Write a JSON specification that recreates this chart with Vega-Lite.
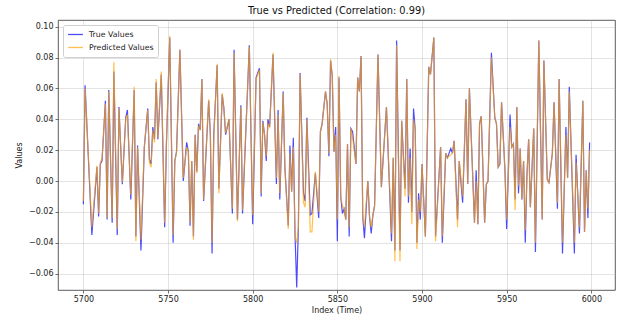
{
  "$schema": "https://vega.github.io/schema/vega-lite/v6.json",
  "width": 557,
  "height": 270,
  "autosize": {"type": "none"},
  "padding": {"left": 58, "top": 20, "right": 7, "bottom": 38},
  "title": {"text": "True vs Predicted (Correlation: 0.99)", "fontSize": 9.8, "fontWeight": "normal", "color": "#111", "offset": 4, "anchor": "middle"},
  "data": {"values": [
    {"i":5700,"t":-0.015,"p":-0.013},{"i":5701,"t":0.062,"p":0.060},{"i":5705,"t":-0.035,"p":-0.030},{"i":5708,"t":0.009,"p":0.010},
    {"i":5709,"t":-0.023,"p":-0.021},{"i":5710,"t":0.011,"p":0.012},{"i":5711,"t":0.013,"p":0.015},{"i":5713,"t":0.052,"p":0.050},
    {"i":5714,"t":-0.025,"p":-0.024},{"i":5715,"t":0.059,"p":0.058},{"i":5717,"t":-0.027,"p":-0.024},{"i":5718,"t":0.071,"p":0.077},
    {"i":5720,"t":-0.035,"p":-0.031},{"i":5721,"t":0.048,"p":0.047},{"i":5723,"t":-0.002,"p":-0.001},{"i":5725,"t":0.041,"p":0.040},
    {"i":5726,"t":0.046,"p":0.043},{"i":5728,"t":-0.012,"p":-0.009},{"i":5730,"t":0.059,"p":0.061},{"i":5731,"t":-0.036,"p":-0.039},
    {"i":5732,"t":0.023,"p":0.022},{"i":5734,"t":-0.045,"p":-0.038},{"i":5736,"t":0.022,"p":0.023},{"i":5738,"t":0.047,"p":0.046},
    {"i":5739,"t":0.014,"p":0.012},{"i":5740,"t":0.011,"p":0.009},{"i":5741,"t":0.035,"p":0.033},{"i":5742,"t":0.027,"p":0.025},
    {"i":5743,"t":0.064,"p":0.066},{"i":5744,"t":0.027,"p":0.028},{"i":5746,"t":0.069,"p":0.071},{"i":5748,"t":-0.030,"p":-0.027},
    {"i":5749,"t":0.022,"p":0.024},{"i":5751,"t":0.093,"p":0.094},{"i":5753,"t":-0.040,"p":-0.035},{"i":5754,"t":0.013,"p":0.013},
    {"i":5755,"t":0.019,"p":0.018},{"i":5757,"t":0.085,"p":0.085},{"i":5759,"t":0.000,"p":0.002},{"i":5761,"t":0.025,"p":0.022},
    {"i":5762,"t":0.019,"p":0.019},{"i":5763,"t":-0.029,"p":-0.027},{"i":5764,"t":0.013,"p":0.013},{"i":5765,"t":-0.036,"p":-0.038},
    {"i":5766,"t":0.030,"p":0.030},{"i":5767,"t":0.006,"p":0.005},{"i":5768,"t":0.037,"p":0.036},{"i":5769,"t":0.033,"p":0.033},
    {"i":5770,"t":0.066,"p":0.066},{"i":5771,"t":-0.013,"p":-0.012},{"i":5774,"t":0.052,"p":0.053},{"i":5775,"t":0.030,"p":0.030},
    {"i":5776,"t":-0.047,"p":-0.040},{"i":5777,"t":0.030,"p":0.027},{"i":5779,"t":0.075,"p":0.076},{"i":5780,"t":-0.005,"p":-0.008},
    {"i":5782,"t":0.056,"p":0.057},{"i":5783,"t":0.047,"p":0.047},{"i":5784,"t":0.030,"p":0.031},{"i":5786,"t":0.040,"p":0.040},
    {"i":5788,"t":-0.021,"p":-0.018},{"i":5789,"t":0.085,"p":0.083},{"i":5791,"t":-0.025,"p":-0.026},{"i":5793,"t":0.049,"p":0.048},
    {"i":5794,"t":-0.021,"p":-0.019},{"i":5798,"t":0.088,"p":0.087},{"i":5800,"t":-0.028,"p":-0.022},{"i":5802,"t":0.067,"p":0.066},
    {"i":5804,"t":0.073,"p":0.072},{"i":5805,"t":-0.010,"p":-0.008},{"i":5806,"t":0.039,"p":0.038},{"i":5807,"t":0.030,"p":0.030},
    {"i":5808,"t":0.013,"p":0.016},{"i":5809,"t":0.040,"p":0.037},{"i":5810,"t":0.035,"p":0.035},{"i":5812,"t":0.082,"p":0.083},
    {"i":5814,"t":-0.002,"p":0.002},{"i":5815,"t":0.046,"p":0.043},{"i":5816,"t":-0.012,"p":-0.008},{"i":5818,"t":0.058,"p":0.057},
    {"i":5819,"t":0.009,"p":0.009},{"i":5821,"t":-0.029,"p":-0.031},{"i":5822,"t":0.023,"p":0.018},{"i":5823,"t":-0.007,"p":-0.007},
    {"i":5824,"t":0.028,"p":0.022},{"i":5825,"t":-0.035,"p":-0.036},{"i":5826,"t":-0.069,"p":-0.040},{"i":5827,"t":-0.029,"p":-0.030},
    {"i":5828,"t":0.070,"p":0.069},{"i":5830,"t":-0.008,"p":-0.014},{"i":5831,"t":-0.013,"p":-0.017},{"i":5832,"t":0.041,"p":0.040},
    {"i":5834,"t":-0.022,"p":-0.033},{"i":5835,"t":-0.021,"p":-0.033},{"i":5837,"t":0.005,"p":0.006},{"i":5839,"t":-0.024,"p":-0.020},
    {"i":5840,"t":0.032,"p":0.032},{"i":5841,"t":0.037,"p":0.037},{"i":5843,"t":0.058,"p":0.058},{"i":5844,"t":0.050,"p":0.050},
    {"i":5845,"t":0.016,"p":0.018},{"i":5846,"t":0.078,"p":0.079},{"i":5847,"t":0.068,"p":0.068},{"i":5848,"t":0.019,"p":0.019},
    {"i":5849,"t":0.035,"p":0.030},{"i":5850,"t":-0.039,"p":-0.025},{"i":5851,"t":0.067,"p":0.068},{"i":5852,"t":-0.010,"p":-0.010},
    {"i":5853,"t":-0.021,"p":-0.016},{"i":5854,"t":-0.018,"p":-0.018},{"i":5855,"t":-0.025,"p":-0.025},{"i":5856,"t":0.024,"p":0.024},
    {"i":5857,"t":-0.036,"p":-0.030},{"i":5858,"t":0.034,"p":0.034},{"i":5859,"t":0.032,"p":0.028},{"i":5861,"t":0.011,"p":0.011},
    {"i":5862,"t":0.067,"p":0.067},{"i":5863,"t":0.058,"p":0.058},{"i":5864,"t":0.081,"p":0.081},{"i":5865,"t":-0.023,"p":-0.023},
    {"i":5866,"t":-0.037,"p":-0.030},{"i":5868,"t":0.000,"p":0.000},{"i":5869,"t":-0.023,"p":-0.023},{"i":5870,"t":-0.034,"p":-0.030},
    {"i":5871,"t":-0.022,"p":-0.022},{"i":5872,"t":-0.016,"p":-0.016},{"i":5874,"t":0.082,"p":0.082},{"i":5876,"t":-0.004,"p":-0.004},
    {"i":5879,"t":0.048,"p":0.048},{"i":5882,"t":-0.039,"p":-0.034},{"i":5883,"t":0.015,"p":0.015},{"i":5884,"t":-0.045,"p":-0.052},
    {"i":5885,"t":0.091,"p":0.088},{"i":5887,"t":-0.045,"p":-0.052},{"i":5888,"t":0.039,"p":0.039},{"i":5890,"t":-0.005,"p":-0.010},
    {"i":5891,"t":0.066,"p":0.066},{"i":5892,"t":-0.014,"p":-0.010},{"i":5893,"t":0.021,"p":0.015},{"i":5894,"t":-0.020,"p":-0.028},
    {"i":5895,"t":0.047,"p":0.040},{"i":5896,"t":0.033,"p":0.033},{"i":5897,"t":-0.040,"p":-0.044},{"i":5898,"t":-0.008,"p":-0.012},
    {"i":5899,"t":-0.025,"p":-0.020},{"i":5900,"t":0.011,"p":0.011},{"i":5902,"t":-0.036,"p":-0.036},{"i":5904,"t":0.074,"p":0.074},
    {"i":5905,"t":0.069,"p":0.069},{"i":5907,"t":0.093,"p":0.093},{"i":5908,"t":-0.036,"p":-0.039},{"i":5911,"t":0.022,"p":0.022},
    {"i":5912,"t":-0.040,"p":-0.036},{"i":5914,"t":0.018,"p":0.018},{"i":5915,"t":0.015,"p":0.015},{"i":5917,"t":0.021,"p":0.017},
    {"i":5918,"t":0.018,"p":0.018},{"i":5919,"t":0.026,"p":0.026},{"i":5921,"t":-0.025,"p":-0.030},{"i":5922,"t":0.013,"p":0.013},
    {"i":5924,"t":-0.014,"p":-0.010},{"i":5926,"t":0.053,"p":0.053},{"i":5927,"t":-0.002,"p":-0.002},{"i":5928,"t":0.060,"p":0.060},
    {"i":5931,"t":-0.027,"p":-0.027},{"i":5932,"t":0.007,"p":0.000},{"i":5933,"t":-0.028,"p":-0.028},{"i":5934,"t":0.037,"p":0.037},
    {"i":5935,"t":0.042,"p":0.042},{"i":5937,"t":-0.027,"p":-0.027},{"i":5938,"t":-0.002,"p":-0.002},{"i":5939,"t":0.000,"p":0.000},
    {"i":5941,"t":0.083,"p":0.080},{"i":5943,"t":0.041,"p":0.041},{"i":5944,"t":0.037,"p":0.037},{"i":5945,"t":0.009,"p":0.009},
    {"i":5946,"t":0.011,"p":0.011},{"i":5947,"t":0.051,"p":0.051},{"i":5949,"t":0.007,"p":0.007},{"i":5950,"t":-0.031,"p":-0.025},
    {"i":5952,"t":0.043,"p":0.035},{"i":5953,"t":0.022,"p":0.022},{"i":5954,"t":0.024,"p":0.024},{"i":5955,"t":-0.012,"p":-0.019},
    {"i":5956,"t":0.048,"p":0.048},{"i":5957,"t":-0.008,"p":-0.003},{"i":5958,"t":0.021,"p":0.021},{"i":5959,"t":-0.012,"p":-0.012},
    {"i":5960,"t":0.013,"p":0.013},{"i":5961,"t":-0.040,"p":-0.032},{"i":5962,"t":0.004,"p":0.004},{"i":5963,"t":0.027,"p":0.027},
    {"i":5964,"t":-0.017,"p":-0.017},{"i":5966,"t":0.034,"p":0.034},{"i":5967,"t":-0.046,"p":-0.040},{"i":5969,"t":0.091,"p":0.091},
    {"i":5971,"t":-0.025,"p":-0.025},{"i":5972,"t":0.078,"p":0.078},{"i":5974,"t":0.001,"p":0.001},{"i":5975,"t":-0.001,"p":-0.001},
    {"i":5977,"t":0.018,"p":0.018},{"i":5978,"t":0.051,"p":0.051},{"i":5980,"t":-0.018,"p":-0.014},{"i":5981,"t":0.066,"p":0.066},
    {"i":5983,"t":-0.047,"p":-0.040},{"i":5985,"t":0.035,"p":0.030},{"i":5986,"t":0.002,"p":0.002},{"i":5987,"t":0.061,"p":0.058},
    {"i":5990,"t":-0.047,"p":-0.040},{"i":5991,"t":0.017,"p":0.012},{"i":5993,"t":-0.034,"p":-0.030},{"i":5995,"t":0.052,"p":0.052},
    {"i":5996,"t":-0.033,"p":-0.033},{"i":5997,"t":0.007,"p":0.007},{"i":5998,"t":-0.024,"p":-0.018},{"i":5999,"t":0.025,"p":0.020}
  ]},
  "transform": [{"fold": ["t", "p"], "as": ["s", "v"]}],
  "mark": {"type": "line", "strokeWidth": 1.2, "opacity": 0.7},
  "encoding": {
    "x": {"field": "i", "type": "quantitative", "scale": {"domain": [5685, 6014], "nice": false, "zero": false},
          "axis": {"title": "Index (Time)", "values": [5700, 5750, 5800, 5850, 5900, 5950, 6000], "format": "d", "labelFlush": false, "titlePadding": 3}},
    "y": {"field": "v", "type": "quantitative", "scale": {"domain": [-0.0706, 0.1043], "nice": false, "zero": false},
          "axis": {"title": "Values", "values": [-0.06, -0.04, -0.02, 0, 0.02, 0.04, 0.06, 0.08, 0.1], "format": ".2f", "labelOverlap": false, "labelFlush": false, "titlePadding": 5}},
    "color": {"field": "s", "type": "nominal",
              "scale": {"domain": ["t", "p"], "range": ["#0000ff", "#ffa500"]},
              "legend": {"title": null, "orient": "top-left", "offset": 5, "padding": 4, "fillColor": "white", "strokeColor": "#d0d0d0",
                         "cornerRadius": 2, "symbolType": "stroke", "symbolSize": 220, "symbolStrokeWidth": 1.3, "symbolOpacity": 0.7,
                         "clipHeight": 11, "labelFontSize": 7.8, "labelColor": "#222", "labelOffset": 5, "rowPadding": 2,
                         "labelExpr": "datum.label == 't' ? 'True Values' : 'Predicted Values'"}}
  },
  "config": {
    "font": "DejaVu Sans",
    "view": {"stroke": "#333333", "strokeWidth": 0.8},
    "axis": {"grid": true, "gridColor": "#b0b0b0", "gridOpacity": 0.6, "gridWidth": 0.6, "domain": false, "labelOverlap": false,
             "tickColor": "#333333", "tickSize": 3, "tickWidth": 0.7, "labelFontSize": 8, "labelColor": "#222222",
             "labelPadding": 2, "titleFontSize": 8, "titleFontWeight": "normal", "titleColor": "#222222"}
  }
}
